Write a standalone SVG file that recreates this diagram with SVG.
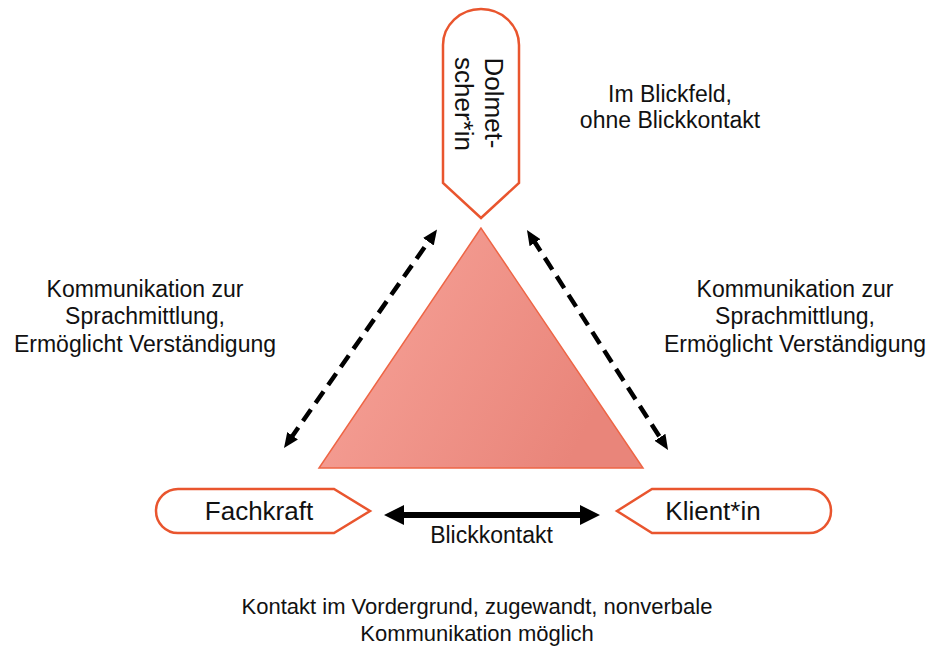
<svg xmlns="http://www.w3.org/2000/svg" width="930" height="647" viewBox="0 0 930 647">
<style>
.shape{fill:#ffffff;stroke:#E9552E;stroke-width:2.5;stroke-linejoin:miter}
.lbl{font-family:"Liberation Sans",Arial,sans-serif;font-size:26px;fill:#111}
.txt{font-family:"Liberation Sans",Arial,sans-serif;font-size:23px;fill:#111;text-anchor:middle}
.dash{fill:none;stroke:#000;stroke-width:4.5;stroke-dasharray:14 8}
</style>
<defs>
<linearGradient id="tri" x1="0" y1="0" x2="1" y2="0.4">
<stop offset="0" stop-color="#F8A59B"/>
<stop offset="1" stop-color="#E9857A"/>
</linearGradient>
<marker id="ah" markerUnits="userSpaceOnUse" markerWidth="18" markerHeight="16" viewBox="0 -8 18 16" refX="4" refY="0" orient="auto-start-reverse">
<path d="M0,-6.5 L15,0 L0,6.5 Z" fill="#000"/>
</marker>
</defs>
<rect width="930" height="647" fill="#ffffff"/>
<polygon points="481,228 319,468 643,468" fill="url(#tri)" stroke="#EE6545" stroke-width="1.5"/>
<g id="dolmetscher">
<path class="shape" d="M443,183 L443,45 A38,36 0 0 1 519,45 L519,183 L481,218 Z"/>
<text class="lbl" text-anchor="middle" transform="translate(485,103) rotate(90)">Dolmet-</text>
<text class="lbl" text-anchor="middle" transform="translate(455,104) rotate(90)">scher*in</text>
</g>
<g id="fachkraft">
<path class="shape" d="M334,489 L178,489 A22,22 0 0 0 178,533 L334,533 L370,511 Z"/>
<text class="lbl" text-anchor="middle" x="259" y="520">Fachkraft</text>
</g>
<g id="klient">
<path class="shape" d="M617,511 L652,489 L809,489 A22,22 0 0 1 809,533 L652,533 Z"/>
<text class="lbl" text-anchor="middle" x="713" y="520">Klient*in</text>
</g>
<g id="connectors">
<line class="dash" x1="290.3" y1="439" x2="430.7" y2="238.5" marker-start="url(#ah)" marker-end="url(#ah)"/>
<line class="dash" x1="532.9" y1="239.3" x2="662.1" y2="440.7" marker-start="url(#ah)" marker-end="url(#ah)"/>
<path d="M384,515 L404,505 L404,512 L580,512 L580,505 L600,515 L580,525 L580,518 L404,518 L404,525 Z" fill="#000"/>
</g>
<g id="labels">
<text class="txt" x="670" y="102">Im Blickfeld,</text>
<text class="txt" x="670" y="128">ohne Blickkontakt</text>
<text class="txt" x="145" y="296.5">Kommunikation zur</text>
<text class="txt" x="145" y="324.3">Sprachmittlung,</text>
<text class="txt" x="145" y="352">Ermöglicht Verständigung</text>
<text class="txt" x="795" y="296.5">Kommunikation zur</text>
<text class="txt" x="795" y="324.3">Sprachmittlung,</text>
<text class="txt" x="795" y="352">Ermöglicht Verständigung</text>
<text class="txt" x="491.5" y="543">Blickkontakt</text>
<text class="txt" x="477" y="614" style="font-size:22px">Kontakt im Vordergrund, zugewandt, nonverbale</text>
<text class="txt" x="477" y="641" style="font-size:22px">Kommunikation möglich</text>
</g>
</svg>
